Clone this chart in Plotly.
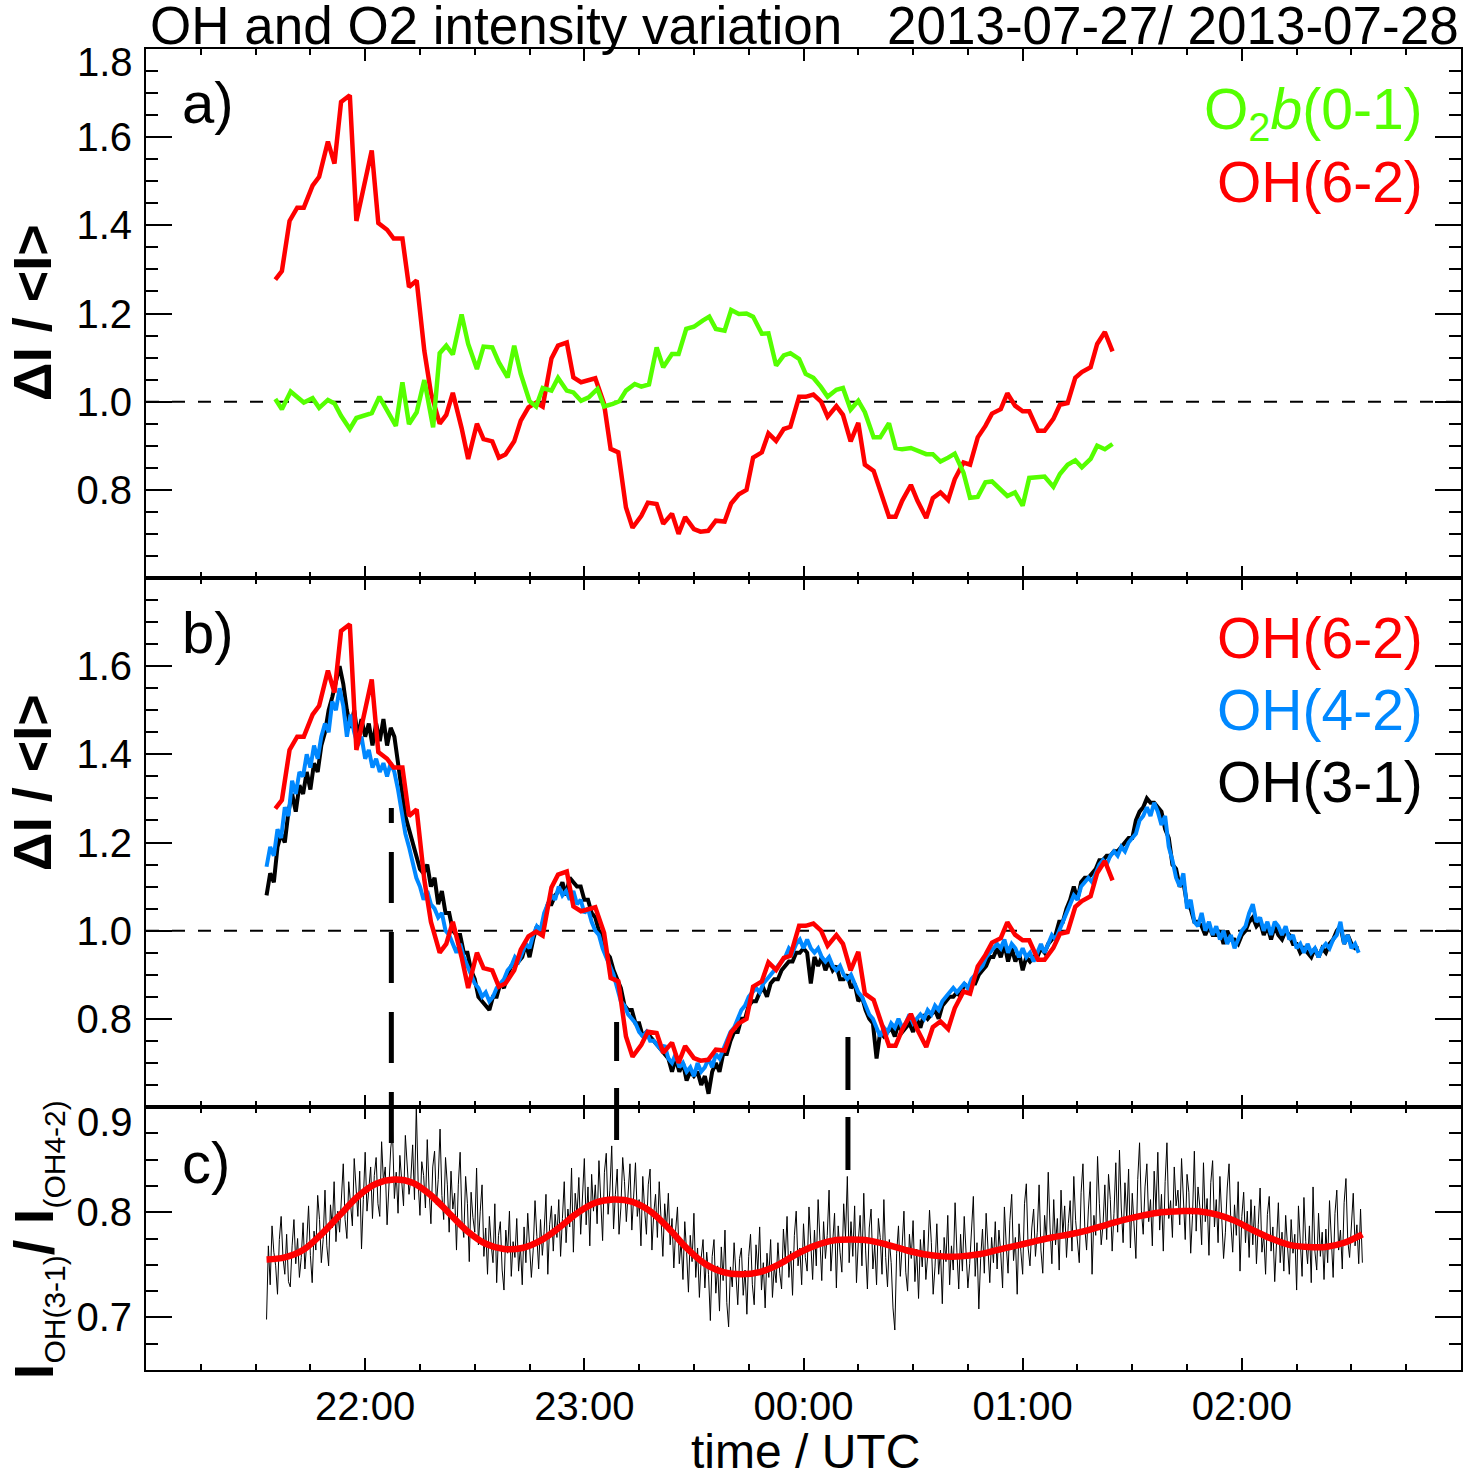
import numpy as np
import pandas as pd
import plotly.graph_objects as go

# ---------------- data ----------------
# OH(6-2) relative intensity, time in decimal hours (UTC, >24 = next day)
oh62_t = [21.59,21.62,21.655,21.69,21.72,21.76,21.79,21.83,21.86,21.89,21.93,21.96,22.03,22.06,22.10,22.13,22.17,22.20,22.235,22.27,
          22.30,22.34,22.37,22.40,22.44,22.47,22.51,22.54,22.58,22.61,22.64,22.68,22.71,22.745,22.78,22.81,22.85,22.88,22.92,22.95,
          22.985,23.02,23.05,23.09,23.12,23.155,23.19,23.22,23.26,23.29,23.33,23.36,23.40,23.43,23.46,23.50,23.53,23.565,23.60,23.64,
          23.67,23.705,23.74,23.77,23.81,23.84,23.875,23.91,23.94,23.98,24.01,24.045,24.08,24.11,24.15,24.18,24.215,24.25,24.28,24.32,
          24.35,24.39,24.42,24.45,24.49,24.52,24.56,24.59,24.625,24.66,24.69,24.73,24.76,24.795,24.83,24.86,24.90,24.93,24.965,25.0,
          25.03,25.07,25.10,25.14,25.17,25.205,25.24,25.27,25.31,25.34,25.375,25.41]
oh62_v = [1.277,1.296,1.41,1.44,1.44,1.49,1.51,1.59,1.54,1.68,1.695,1.41,1.57,1.405,1.39,1.37,1.37,1.26,1.275,1.115,
          1.02,0.95,0.97,1.02,0.94,0.87,0.95,0.915,0.91,0.873,0.88,0.91,0.957,0.987,0.998,0.989,1.098,1.127,1.134,1.055,
          1.044,1.048,1.053,0.995,0.893,0.885,0.76,0.714,0.741,0.771,0.768,0.723,0.746,0.70,0.738,0.711,0.705,0.707,0.73,0.728,
          0.769,0.79,0.80,0.873,0.885,0.928,0.911,0.938,0.943,1.011,1.011,1.016,1.0,0.966,0.99,0.97,0.91,0.952,0.857,0.843,
          0.798,0.739,0.739,0.775,0.811,0.775,0.736,0.781,0.794,0.777,0.824,0.862,0.857,0.919,0.945,0.973,0.983,1.019,0.991,0.978,
          0.978,0.934,0.934,0.961,0.993,0.997,1.054,1.067,1.078,1.131,1.158,1.114]

# O2b(0-1) relative intensity
o2b_t = [21.59,21.62,21.66,21.69,21.72,21.76,21.79,21.83,21.86,21.89,21.93,21.96,22.0,22.03,22.065,22.10,22.14,22.17,22.20,22.235,
         22.27,22.31,22.34,22.37,22.40,22.44,22.47,22.51,22.54,22.58,22.61,22.65,22.68,22.71,22.75,22.78,22.81,22.85,22.88,22.92,
         22.95,22.985,23.02,23.06,23.09,23.13,23.16,23.19,23.23,23.26,23.295,23.33,23.36,23.40,23.43,23.465,23.50,
         23.54,23.57,23.60,23.64,23.67,23.705,23.74,23.77,23.81,23.84,23.875,23.91,23.94,23.98,24.01,24.045,24.08,24.11,24.15,24.18,
         24.215,24.25,24.28,24.32,24.35,24.39,24.42,24.45,24.49,24.52,24.56,24.59,24.625,24.66,24.69,24.73,24.76,24.795,24.83,24.86,
         24.90,24.93,24.965,25.0,25.03,25.07,25.10,25.14,25.17,25.205,25.24,25.27,25.31,25.34,25.375,25.41]
o2b_v = [1.006,0.983,1.023,1.01,0.998,1.008,0.986,1.004,0.996,0.968,0.938,0.963,0.968,0.974,1.011,0.98,0.945,1.044,0.949,0.976,
         1.049,0.942,1.11,1.127,1.107,1.198,1.131,1.074,1.125,1.123,1.089,1.055,1.127,1.063,1.001,0.989,1.031,1.025,1.054,1.025,
         1.021,1.002,1.01,1.029,0.989,0.995,1.001,1.025,1.04,1.034,1.039,1.123,1.078,1.108,1.108,1.165,1.17,
         1.184,1.193,1.165,1.161,1.208,1.199,1.20,1.193,1.154,1.155,1.082,1.105,1.11,1.097,1.063,1.054,1.033,1.011,1.027,1.031,
         0.982,1.002,0.976,0.919,0.919,0.951,0.895,0.892,0.895,0.889,0.881,0.881,0.864,0.873,0.882,0.839,0.782,0.784,0.817,0.819,
         0.801,0.786,0.794,0.764,0.827,0.828,0.83,0.807,0.836,0.857,0.867,0.851,0.87,0.90,0.892,0.904]

# OH(4-2) and OH(3-1), one value per minute from 21:33 UTC
oh_start_hour = 21.55
oh42_v = [
1.145,1.19,1.17,1.23,1.21,1.28,1.26,1.34,1.31,1.36, 1.35,1.40,1.37,1.42,1.39,1.44,1.47,1.45,1.52,1.50,
1.55,1.51,1.44,1.49,1.45,1.42,1.44,1.39,1.41,1.37, 1.39,1.36,1.38,1.35,1.38,1.36,1.32,1.27,1.22,1.19,
1.15,1.12,1.10,1.07,1.09,1.06,1.05,1.03,1.04,1.00, 0.99,0.97,0.95,0.97,0.94,0.92,0.90,0.88,0.87,0.85,
0.86,0.84,0.85,0.87,0.88,0.89,0.91,0.92,0.94,0.93, 0.95,0.97,0.96,0.99,1.01,1.00,1.04,1.06,1.08,1.07,
1.10,1.08,1.09,1.07,1.09,1.06,1.07,1.04,1.05,1.02, 1.00,0.99,0.96,0.94,0.92,0.90,0.87,0.84,0.83,0.81,
0.80,0.79,0.77,0.76,0.77,0.75,0.75,0.74,0.73,0.74, 0.71,0.70,0.72,0.69,0.70,0.68,0.69,0.67,0.70,0.68,
0.69,0.71,0.69,0.72,0.71,0.73,0.75,0.77,0.78,0.80, 0.82,0.83,0.85,0.86,0.87,0.86,0.88,0.89,0.90,0.91,
0.92,0.93,0.94,0.96,0.95,0.97,0.98,0.96,0.98,0.96, 0.95,0.96,0.94,0.93,0.94,0.92,0.91,0.92,0.90,0.89,
0.90,0.88,0.86,0.85,0.83,0.81,0.80,0.78,0.76,0.78, 0.77,0.79,0.78,0.80,0.78,0.79,0.81,0.79,0.80,0.81,
0.80,0.82,0.81,0.83,0.82,0.84,0.85,0.86,0.87,0.86, 0.87,0.88,0.87,0.89,0.90,0.91,0.92,0.94,0.95,0.96,
0.97,0.96,0.98,0.95,0.97,0.96,0.94,0.96,0.94,0.95, 0.93,0.95,0.97,0.95,0.97,0.99,0.98,1.00,1.02,1.04,
1.06,1.08,1.07,1.10,1.11,1.12,1.11,1.13,1.15,1.16, 1.15,1.17,1.18,1.17,1.19,1.18,1.20,1.21,1.22,1.25,
1.26,1.28,1.26,1.29,1.27,1.24,1.26,1.19,1.16,1.12, 1.10,1.13,1.05,1.07,1.02,1.01,1.04,1.00,1.02,0.99,
1.01,0.98,1.00,0.97,0.99,0.96,0.98,1.00,1.01,1.04, 1.06,1.02,1.03,1.00,1.02,0.99,1.02,1.01,0.99,1.01,
0.98,0.99,0.96,0.97,0.95,0.97,0.95,0.96,0.94,0.96, 0.97,0.96,0.98,0.99,1.02,0.97,0.99,0.96,0.97,0.95]
oh31_v = [
1.08,1.13,1.11,1.19,1.22,1.20,1.27,1.31,1.27,1.33, 1.31,1.36,1.32,1.38,1.36,1.42,1.45,1.50,1.53,1.57,
1.60,1.56,1.50,1.46,1.50,1.44,1.48,1.44,1.47,1.42, 1.47,1.43,1.48,1.42,1.46,1.44,1.38,1.31,1.26,1.23,
1.20,1.17,1.14,1.13,1.15,1.10,1.12,1.06,1.09,1.04, 1.04,1.00,0.99,0.99,0.95,0.95,0.91,0.89,0.85,0.84,
0.83,0.82,0.85,0.85,0.88,0.87,0.90,0.92,0.92,0.93, 0.94,0.97,0.94,0.98,1.01,1.00,1.03,1.06,1.06,1.08,
1.09,1.11,1.08,1.12,1.11,1.10,1.10,1.07,1.07,1.04, 1.03,1.00,0.99,0.95,0.94,0.91,0.89,0.87,0.83,0.82,
0.82,0.79,0.79,0.76,0.77,0.76,0.75,0.74,0.73,0.72, 0.71,0.68,0.71,0.68,0.70,0.66,0.68,0.67,0.68,0.65,
0.67,0.63,0.68,0.70,0.68,0.72,0.72,0.75,0.77,0.77, 0.80,0.80,0.83,0.84,0.84,0.86,0.87,0.85,0.88,0.89,
0.89,0.91,0.92,0.93,0.93,0.95,0.95,0.96,0.95,0.88, 0.94,0.92,0.94,0.91,0.93,0.91,0.92,0.89,0.89,0.90,
0.87,0.88,0.84,0.85,0.82,0.80,0.79,0.71,0.77,0.76, 0.77,0.78,0.76,0.79,0.77,0.78,0.79,0.77,0.80,0.78,
0.81,0.80,0.81,0.82,0.80,0.83,0.84,0.85,0.85,0.86, 0.85,0.88,0.87,0.88,0.88,0.90,0.91,0.92,0.94,0.94,
0.96,0.94,0.97,0.93,0.96,0.93,0.95,0.91,0.94,0.93, 0.94,0.94,0.96,0.95,0.97,0.98,0.99,1.02,1.02,1.05,
1.07,1.10,1.07,1.11,1.12,1.12,1.13,1.14,1.16,1.16, 1.17,1.17,1.18,1.18,1.19,1.20,1.21,1.21,1.25,1.27,
1.28,1.30,1.29,1.29,1.28,1.27,1.23,1.21,1.15,1.14, 1.10,1.11,1.06,1.05,1.02,1.02,1.01,0.99,1.01,0.99,
0.99,1.00,0.97,1.00,0.98,0.98,0.97,0.99,1.00,1.02, 1.03,1.01,1.02,0.99,1.01,0.98,1.01,0.99,0.98,1.00,
0.99,0.97,0.97,0.95,0.96,0.95,0.94,0.96,0.94,0.96, 0.95,0.97,0.98,1.00,1.01,0.97,0.99,0.97,0.96,0.96]

# ratio I_OH(3-1)/I_OH(4-2), one value every 30 s from 21:33 UTC
ratio_start_hour = 21.55
ratio_v = [
0.698,0.768,0.731,0.787,0.762,0.749,0.722,0.774,0.796,0.757,0.741,0.779,0.734,0.729,0.768,0.793,0.751,0.775,0.738,0.757,
0.790,0.746,0.771,0.806,0.759,0.733,0.782,0.764,0.816,0.793,0.752,0.774,0.821,0.768,0.749,0.807,0.785,0.829,0.772,0.801,
0.781,0.818,0.846,0.793,0.775,0.829,0.804,0.787,0.851,0.822,0.796,0.839,0.765,0.812,0.857,0.801,0.826,0.843,0.794,0.835,
0.852,0.808,0.796,0.867,0.829,0.843,0.788,0.819,0.861,0.876,0.813,0.838,0.799,0.854,0.826,0.806,0.873,0.845,0.817,0.832,
0.864,0.812,0.901,0.829,0.797,0.848,0.835,0.804,0.869,0.821,0.789,0.843,0.858,0.807,0.831,0.879,0.816,0.793,0.852,0.826,
0.781,0.839,0.803,0.818,0.764,0.826,0.857,0.792,0.776,0.834,0.808,0.753,0.819,0.795,0.781,0.842,0.769,0.801,0.826,0.758,
0.785,0.741,0.796,0.769,0.752,0.808,0.733,0.778,0.791,0.745,0.726,0.783,0.761,0.801,0.739,0.772,0.757,0.794,0.744,0.768,
0.731,0.786,0.752,0.799,0.771,0.738,0.764,0.811,0.777,0.746,0.793,0.759,0.782,0.817,0.741,0.788,0.806,0.763,0.798,0.776,
0.812,0.758,0.794,0.829,0.771,0.803,0.786,0.842,0.762,0.818,0.797,0.833,0.779,0.809,0.851,0.788,0.824,0.768,0.836,0.801,
0.826,0.789,0.849,0.811,0.773,0.838,0.856,0.798,0.821,0.863,0.784,0.817,0.841,0.779,0.804,0.852,0.829,0.791,0.814,0.846,
0.783,0.821,0.847,0.796,0.812,0.768,0.834,0.803,0.779,0.826,0.841,0.764,0.799,0.817,0.776,0.829,0.791,0.758,0.808,0.784,
0.818,0.769,0.794,0.747,0.783,0.805,0.751,0.772,0.736,0.791,0.762,0.724,0.778,0.753,0.799,0.738,0.766,0.719,0.757,0.774,
0.728,0.762,0.741,0.697,0.758,0.774,0.723,0.749,0.706,0.767,0.735,0.783,0.714,0.691,0.748,0.729,0.771,0.738,0.712,0.756,
0.766,0.721,0.745,0.703,0.758,0.779,0.731,0.712,0.769,0.744,0.786,0.726,0.752,0.709,0.761,0.738,0.774,0.719,0.749,0.733,
0.771,0.742,0.727,0.784,0.756,0.796,0.738,0.763,0.721,0.778,0.801,0.749,0.766,0.731,0.789,0.757,0.744,0.805,0.771,0.736,
0.783,0.749,0.812,0.767,0.735,0.791,0.756,0.778,0.821,0.744,0.769,0.799,0.728,0.787,0.762,0.743,0.808,0.776,0.834,0.752,
0.791,0.758,0.806,0.733,0.772,0.797,0.749,0.818,0.764,0.727,0.785,0.803,0.746,0.769,0.731,0.794,0.776,0.741,0.812,0.757,
0.729,0.774,0.752,0.709,0.688,0.761,0.787,0.739,0.768,0.801,0.743,0.725,0.779,0.756,0.792,0.734,0.765,0.718,0.774,0.748,
0.783,0.736,0.759,0.802,0.771,0.722,0.748,0.789,0.741,0.764,0.713,0.776,0.753,0.797,0.731,0.768,0.745,0.809,0.762,0.727,
0.779,0.744,0.796,0.763,0.728,0.751,0.787,0.815,0.739,0.771,0.708,0.756,0.784,0.742,0.799,0.767,0.733,0.776,0.752,0.791,
0.746,0.783,0.761,0.728,0.805,0.769,0.742,0.792,0.817,0.754,0.776,0.722,0.789,0.763,0.741,0.808,0.827,0.766,0.749,0.785,
0.803,0.758,0.781,0.826,0.764,0.742,0.797,0.773,0.838,0.785,0.751,0.812,0.769,0.794,0.745,0.821,0.778,0.806,0.757,0.789,
0.811,0.763,0.834,0.792,0.771,0.752,0.819,0.846,0.786,0.764,0.803,0.829,0.741,0.797,0.778,0.853,0.808,0.769,0.788,0.826,
0.774,0.836,0.812,0.763,0.799,0.847,0.781,0.859,0.804,0.771,0.828,0.793,0.841,0.766,0.818,0.787,0.756,0.831,0.866,0.802,
0.779,0.824,0.846,0.791,0.812,0.768,0.839,0.801,0.857,0.783,0.817,0.763,0.829,0.866,0.794,0.811,0.776,0.843,0.806,0.821,
0.788,0.851,0.809,0.774,0.836,0.819,0.761,0.797,0.858,0.782,0.824,0.805,0.769,0.847,0.791,0.813,0.759,0.828,0.849,0.786,
0.812,0.771,0.834,0.798,0.756,0.781,0.823,0.846,0.789,0.762,0.807,0.778,0.829,0.744,0.796,0.819,0.771,0.801,0.757,0.812,
0.769,0.806,0.751,0.788,0.823,0.762,0.779,0.741,0.798,0.815,0.763,0.786,0.734,0.771,0.809,0.752,0.781,0.744,0.797,0.768,
0.741,0.793,0.761,0.779,0.726,0.806,0.768,0.739,0.814,0.772,0.751,0.787,0.733,0.824,0.763,0.745,0.799,0.758,0.781,0.736,
0.784,0.752,0.811,0.771,0.738,0.799,0.821,0.764,0.783,0.746,0.809,0.832,0.773,0.757,0.794,0.818,0.768,0.788,0.751,0.803,
0.752]

# smooth fit of the ratio, one value every 5 min from 21:33 UTC
fit_v = [0.755,0.757,0.764,0.779,0.797,0.815,0.827,0.831,0.828,0.816,0.799,0.782,0.770,0.765,0.766,0.773,0.785,0.799,0.809,0.812,
         0.810,0.801,0.785,0.766,0.751,0.743,0.741,0.743,0.750,0.760,0.768,0.773,0.774,0.773,0.769,0.764,0.760,0.758,0.758,0.760,
         0.764,0.768,0.772,0.776,0.779,0.783,0.788,0.793,0.797,0.800,0.801,0.801,0.798,0.792,0.783,0.775,0.769,0.767,0.767,0.771,
         0.779]

x_tick_hours = [22, 23, 24, 25, 26]
x_tick_text = ["22:00", "23:00", "00:00", "01:00", "02:00"]
ab_tick_vals = [0.8, 1.0, 1.2, 1.4, 1.6]
c_tick_vals = [0.7, 0.8]

# ---------------- helpers ----------------
BASE = pd.Timestamp("2013-07-27")
def hours_to_time(h):
    return BASE + pd.to_timedelta(np.asarray(h, dtype=float), unit="h")

def regular_time(start_hour, n, step_min):
    return hours_to_time(start_hour + np.arange(n) * step_min / 60.0)

# pixel geometry of the plot area
L, R, T, B = 146, 1463, 49, 1370
def py(p):
    return (B - p) / (B - T)
def pxf(p):
    return (p - L) / (R - L)

FONT = "Liberation Sans, Arial, Helvetica, sans-serif"
RED = "#ff0000"
GREEN = "#55ff00"
BLUE = "#0088ff"

fig = go.Figure()

# panel a
fig.add_trace(go.Scatter(x=hours_to_time(oh62_t), y=oh62_v, mode="lines",
                         line=dict(color=RED, width=4.5), xaxis="x", yaxis="y"))
fig.add_trace(go.Scatter(x=hours_to_time(o2b_t), y=o2b_v, mode="lines",
                         line=dict(color=GREEN, width=4.5), xaxis="x", yaxis="y"))
# panel b
fig.add_trace(go.Scatter(x=regular_time(oh_start_hour, len(oh31_v), 1), y=oh31_v, mode="lines",
                         line=dict(color="black", width=4), xaxis="x2", yaxis="y2"))
fig.add_trace(go.Scatter(x=regular_time(oh_start_hour, len(oh42_v), 1), y=oh42_v, mode="lines",
                         line=dict(color=BLUE, width=4), xaxis="x2", yaxis="y2"))
fig.add_trace(go.Scatter(x=hours_to_time(oh62_t), y=oh62_v, mode="lines",
                         line=dict(color=RED, width=4.5), xaxis="x2", yaxis="y2"))
# panel c
fig.add_trace(go.Scatter(x=regular_time(ratio_start_hour, len(ratio_v), 0.5), y=ratio_v, mode="lines",
                         line=dict(color="black", width=1), xaxis="x3", yaxis="y3"))
fig.add_trace(go.Scatter(x=regular_time(ratio_start_hour, len(fit_v), 5), y=fit_v, mode="lines",
                         line=dict(color=RED, width=6.5, shape="spline"), xaxis="x3", yaxis="y3"))

xrange_ = [hours_to_time(21.0), hours_to_time(27.0)]
def xaxis(anchor, labels):
    return dict(range=xrange_, type="date", anchor=anchor, domain=[0, 1],
                tickmode="array", tickvals=list(hours_to_time(x_tick_hours)), ticktext=x_tick_text,
                ticks="inside", ticklen=12, tickwidth=1.5, tickcolor="black",
                showticklabels=labels, tickfont=dict(family=FONT, size=40, color="black"),
                showline=True, linecolor="black", linewidth=2, mirror="ticks",
                showgrid=False, zeroline=False,
                minor=dict(ticks="inside", ticklen=6, tickwidth=1.5, tickcolor="black",
                           tickmode="linear", dtick=900000, tick0=hours_to_time(21.0), showgrid=False))

def yaxis(anchor, dom, rng, vals, minor_dt):
    return dict(range=rng, anchor=anchor, domain=dom, tickmode="array",
                tickvals=vals, ticktext=["%.1f" % v for v in vals],
                ticks="inside", ticklen=26, tickwidth=1.5, tickcolor="black",
                tickfont=dict(family=FONT, size=40, color="black"), ticklabelstandoff=4,
                showline=True, linecolor="black", linewidth=2, mirror="ticks",
                showgrid=False, zeroline=False,
                minor=dict(ticks="inside", ticklen=12, tickwidth=1.5, tickcolor="black",
                           tickmode="linear", tick0=rng[0], dtick=minor_dt, showgrid=False))

dom_c = [0, py(1107)]
dom_b = [py(1107), py(578)]
dom_a = [py(578), 1]

fig.update_layout(
    width=1467, height=1475,
    margin=dict(l=L, r=1467 - R, t=T, b=1475 - B),
    paper_bgcolor="white", plot_bgcolor="white", showlegend=False,
    font=dict(family=FONT, color="black"),
    xaxis=xaxis("y", False), xaxis2=xaxis("y2", False), xaxis3=xaxis("y3", True),
    yaxis=yaxis("x", dom_a, [0.6, 1.8], ab_tick_vals, 0.05),
    yaxis2=yaxis("x2", dom_b, [0.6, 1.8], ab_tick_vals, 0.05),
    yaxis3=yaxis("x3", dom_c, [0.65, 0.9], c_tick_vals, 0.025),
)

shapes = []
for yr in ("y", "y2"):
    shapes.append(dict(type="line", xref="paper", x0=0, x1=1, yref=yr, y0=1.0, y1=1.0,
                       line=dict(color="black", width=2, dash="13px,13px"), layer="below"))
# long-dashed vertical markers
markers = [("2013-07-27 22:07:10", [(808, 823), (852, 903), (932, 983), (1012, 1063), (1092, 1143)]),
           ("2013-07-27 23:08:50", [(1022, 1061), (1088, 1140)]),
           ("2013-07-28 00:12:10", [(1037, 1090), (1117, 1170)])]
for xt, segs in markers:
    for a, b in segs:
        shapes.append(dict(type="line", xref="x3", x0=xt, x1=xt, yref="paper", y0=py(a), y1=py(b),
                           line=dict(color="black", width=5)))
fig.update_layout(shapes=shapes)

ann = []
def add(text, x, y, size, color="black", xanchor="center", yanchor="middle", angle=0):
    ann.append(dict(text=text, xref="paper", yref="paper", x=pxf(x), y=py(y), showarrow=False,
                    xanchor=xanchor, yanchor=yanchor, textangle=angle,
                    font=dict(family=FONT, size=size, color=color)))

add("OH and O2 intensity variation", 148, 26, 53, xanchor="left")
add("2013-07-27/ 2013-07-28", 1463, 26, 53, xanchor="right")
add("a)", 180, 102, 58, xanchor="left")
add("b)", 180, 632, 58, xanchor="left")
add("c)", 180, 1162, 58, xanchor="left")
add("O<sub>2</sub><i>b</i>(0-1)", 1427, 113, 57, GREEN, xanchor="right")
add("OH(6-2)", 1427, 182, 57, RED, xanchor="right")
add("OH(6-2)", 1427, 638, 57, RED, xanchor="right")
add("OH(4-2)", 1427, 710, 57, BLUE, xanchor="right")
add("OH(3-1)", 1427, 782, 57, "black", xanchor="right")
add("1.8", 135, 62, 40, xanchor="right")
add("0.9", 135, 1122, 40, xanchor="right")
add("<b>ΔI / &lt;I&gt;</b>", 32, 313, 54, angle=-90)
add("<b>ΔI / &lt;I&gt;</b>", 32, 783, 54, angle=-90)
add("<b>I</b><sub><span style='font-size:30px'>OH(3-1)</span></sub><b>/ I</b>"
    "<sub><span style='font-size:30px'>(OH4-2)</span></sub>", 36, 1240, 56, angle=-90)
add("time / UTC", 807, 1451, 48)
fig.update_layout(annotations=ann)

fig.write_html("out.html")
